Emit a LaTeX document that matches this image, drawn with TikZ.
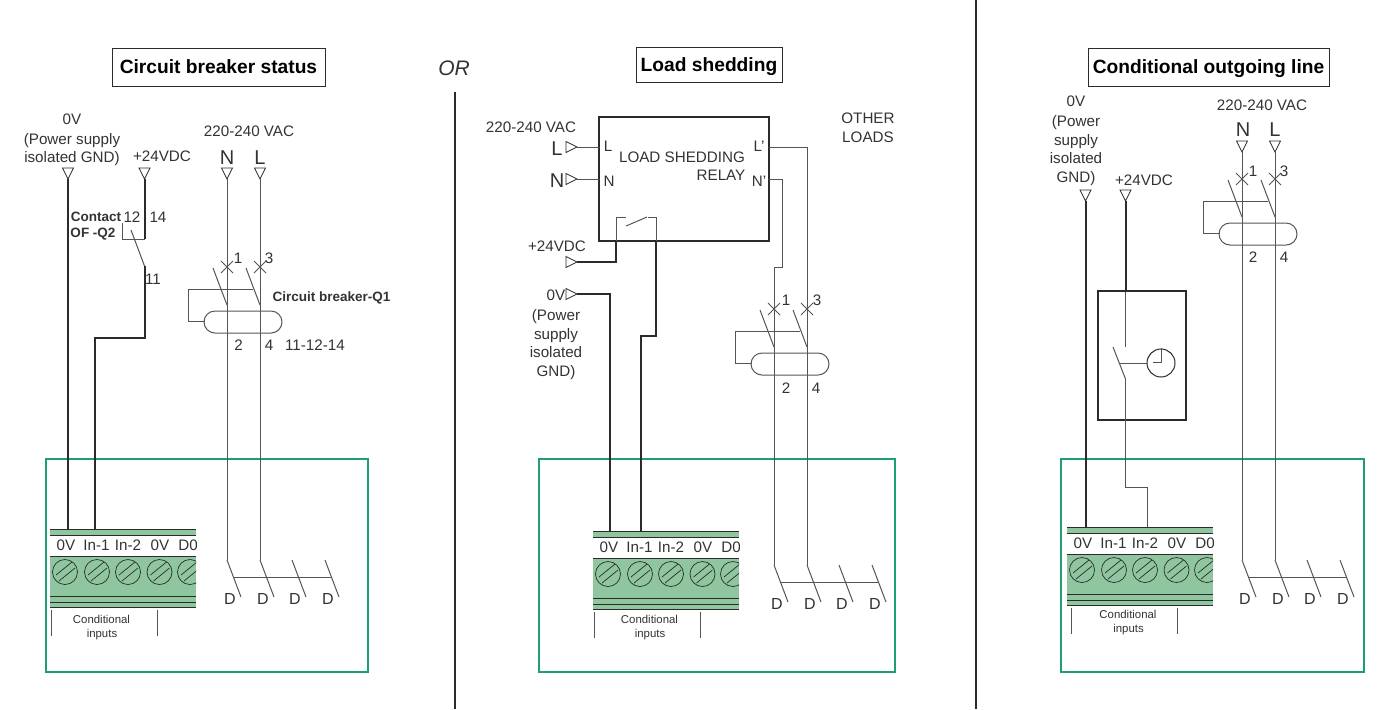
\documentclass[tikz,border=0pt]{standalone}
\usepackage{fontspec}
\setmainfont{Liberation Sans}
\definecolor{ink}{HTML}{2B2B2B}
\definecolor{txt}{HTML}{333333}
\definecolor{frame}{HTML}{1F9E6E}
\definecolor{blockg}{HTML}{8FC6A0}
\definecolor{thinw}{HTML}{555555}
\newcommand{\sz}[1]{\fontsize{#1}{#1}\selectfont}
\tikzset{
  x=0.5pt,y=-0.5pt,
  lbl/.style={inner sep=0pt,text=txt,font=\sz{7.6pt},text height=5.5pt,text depth=0pt},
  big/.style={inner sep=0pt,text=txt,font=\sz{10pt},text height=7.2pt,text depth=0pt},
  small/.style={inner sep=0pt,text=txt,font=\sz{5.7pt},text height=4.1pt,text depth=0pt},
  boldl/.style={inner sep=0pt,text=txt,font=\bfseries\sz{6.75pt},text height=4.8pt,text depth=0pt},
  title/.style={draw=ink,line width=0.5pt,inner sep=0pt,text=black,font=\bfseries\sz{9.6pt},text height=6.9pt,text depth=0pt},
  thin wire/.style={draw=thinw,line width=0.5pt},
  thick wire/.style={draw=ink,line width=1pt},
  term/.style={draw=ink,line width=0.4pt,fill=white},
  green frame/.style={draw=frame,line width=0.9pt},
  heavy/.style={draw=ink,line width=1pt},
  tdown/.pic={\path[term] (-5.5,-11) -- (5.5,-11) -- (0,0) -- cycle;},
  tright/.pic={\path[term] (-11,-5.5) -- (-11,5.5) -- (0,0) -- cycle;},
  breaker/.pic={
    \coordinate (-in1) at (0,0);
    \coordinate (-in2) at (33,0);
    \coordinate (-out1) at (0,38);
    \coordinate (-out2) at (33,38);
    \draw[thin wire] (-6,-6) -- (6,6) (-6,6) -- (6,-6);
    \draw[thin wire] (27,-6) -- (39,6) (27,6) -- (39,-6);
    \draw[thin wire] (-14,1) -- (-out1);
    \draw[thin wire] (19,1) -- (-out2);
    \draw[thin wire] (26,22) -- (-39,22) -- (-39,54) -- (-22,54);
    \draw[thin wire,rounded corners=5.5pt] (-23,44) rectangle (55,66);
    \draw[thin wire] (-in1) -- (-out1);
  },
  dcontacts/.pic={
    \coordinate (-a) at (0,0);
    \coordinate (-b) at (33,0);
    \foreach \i in {0,33,65,98}{
      \draw[thin wire] (\i,0) -- ++(14,37);
      \node[lbl,font=\sz{8pt}] at (\i+3,39) {D};
    }
    \draw[thin wire] (7,17) -- (105,17);
  },
  pics/tblock/.style n args={3}{code={
    \coordinate (-0V) at (16,0);
    \coordinate (-In1) at (46,0);
    \coordinate (-In2) at (78,0);
    \begin{scope}
      \clip (0,-1) rectangle (146,80);
      \fill[blockg] (0,0) rectangle (146,6);
      \fill[blockg] (0,27) rectangle (146,78);
      \draw[ink,line width=0.5pt] (0,0) -- (146,0) (0,6) -- (146,6) (0,27) -- (146,27)
        (0,67) -- (146,67) (0,73) -- (146,73) (0,78) -- (146,78);
      \foreach \c in {15,47,78,109.5,140}{
        \draw[ink,line width=0.35pt] (\c,43) circle[radius=12.5];
        \draw[ink,line width=0.35pt] (\c-9,43+3) -- (\c+7,43-10) (\c-6,43+9) -- (\c+10,43-4);
      }
      \node[lbl] at (16,15.5) {0V};
      \node[lbl] at (46.5,15.5) {In-1};
      \node[lbl] at (78,15.5) {In-2};
      \node[lbl] at (110,15.5) {0V};
      \node[lbl,anchor=west] at (128,15.5) {D0};
    \end{scope}
    \draw[thin wire] (1.5+#1,81) -- (1.5+#1,107) (107+#1,81) -- (107+#1,107);
    \node[small] at (51.5+#2,90+#3) {Conditional};
    \node[small] at (52+#2,104+#3) {inputs};
  }}
}
\begin{document}
\begin{tikzpicture}
\useasboundingbox (0,0) rectangle (1382,709);
\fill[white] (0,0) rectangle (1382,709);
% dividers
\coordinate (d1a) at (455,92); \coordinate (d1b) at (455,709);
\coordinate (d2a) at (976,0); \coordinate (d2b) at (976,709);
\draw[heavy] (d1a) -- (d1b);
\draw[heavy] (d2a) -- (d2b);
\node[inner sep=0pt,text=txt,font=\itshape\sz{10.5pt}] (orl) at (454,68) {OR};
% titles
\node[title,minimum width=106.5pt,minimum height=19pt] (t1) at (218.5,67) {Circuit breaker status};
\node[title,minimum width=73pt,minimum height=17.5pt] (t2) at (709,64.5) {Load shedding};
\node[title,minimum width=120.5pt,minimum height=19pt] (t3) at (1208.5,67) {Conditional outgoing line};
% frames
\node[green frame,minimum width=161pt,minimum height=106.5pt,inner sep=0pt] (f1) at (207,565.5) {};
\node[green frame,minimum width=178pt,minimum height=106.5pt,inner sep=0pt] (f2) at (717,565.5) {};
\node[green frame,minimum width=151.5pt,minimum height=106.5pt,inner sep=0pt] (f3) at (1212.5,565.5) {};

% ===== Panel 1 =====
\pic (b1) at (50,529) {tblock={0}{0}{0}};
\pic (p1) at (227,267) {breaker};
\pic (d1) at (227,560) {dcontacts};
\coordinate (a0) at (68,179);
\coordinate (a24) at (144.5,179);
\coordinate (aN) at (227,179);
\coordinate (aL) at (260,179);
\pic at (a0) {tdown}; \pic at (a24) {tdown}; \pic at (aN) {tdown}; \pic at (aL) {tdown};
\draw[thick wire] (a0) -- (68,529);
\coordinate (c14) at (144.5,239);
\coordinate (c11) at (144.5,266);
\draw[thick wire] (a24) -- (c14);
\draw[thin wire] (122,223) -- (122,239) -- (c14);
\draw[thin wire] (131,230) -- (c11);
\draw[thick wire] (c11) -- (144.5,338) -- (95,338) -- (95,529);
\draw[thin wire] (aN) -- (p1-in1);
\draw[thin wire] (aL) -- (p1-in2);
\draw[thin wire] (p1-in2) -- (p1-out2);
\draw[thin wire] (p1-out1) -- (d1-a);
\draw[thin wire] (p1-out2) -- (d1-b);
\node[lbl] (n1) at (72,119) {0V};
\node[lbl] (n2) at (72,139) {(Power supply};
\node[lbl] (n3) at (72,157) {isolated GND)};
\node[lbl] (n4) at (162,156) {+24VDC};
\node[lbl] (n5) at (249,131) {220-240 VAC};
\node[big] (n6) at (227,157) {N};
\node[big] (n7) at (260,157) {L};
\node[boldl] (n8) at (96,217) {Contact};
\node[boldl] (n9) at (93,233) {OF -Q2};
\node[lbl] (n10) at (132,217) {12};
\node[lbl] (n11) at (158,217) {14};
\node[lbl] (n12) at (153,279) {11};
\node[lbl] (n13) at (238,258) {1};
\node[lbl] (n14) at (269,258) {3};
\node[boldl] (n15) at (331.5,297) {Circuit breaker-Q1};
\node[lbl] (n16) at (238.5,345) {2};
\node[lbl] (n17) at (269,345) {4};
\node[lbl] (n18) at (315,345) {11-12-14};

% ===== Panel 2 =====
\draw[heavy,fill=white] (599,117) rectangle (769,241);
\pic (b2) at (593,531) {tblock={0}{5}{-2}};
\pic (p2) at (774,309) {breaker};
\pic (d2) at (774,565) {dcontacts};
\coordinate (bL) at (577,147);
\coordinate (bN) at (577,179);
\coordinate (b24) at (577,262);
\coordinate (b0) at (577,294);
\pic at (bL) {tright}; \pic at (bN) {tright}; \pic at (b24) {tright}; \pic at (b0) {tright};
\draw[thin wire] (bL) -- (599,147);
\draw[thin wire] (bN) -- (599,179);
\draw[thin wire] (769,147) -- (807,147) -- (p2-in2);
\draw[thin wire] (769,179) -- (782,179) -- (782,267) -- (774,267) -- (p2-in1);
\draw[thin wire] (p2-in2) -- (p2-out2);
\draw[thin wire] (p2-out1) -- (d2-a);
\draw[thin wire] (p2-out2) -- (d2-b);
\draw[thick wire] (b24) -- (616,262) -- (616,241);
\draw[thin wire] (616,241) -- (616,217) -- (626,217);
\draw[thin wire] (626,226) -- (647,217);
\draw[thin wire] (648,217) -- (656,217) -- (656,241);
\draw[thick wire] (656,241) -- (656,336) -- (641,336) -- (641,531);
\draw[thick wire] (b0) -- (610,294) -- (610,531);
\node[lbl] (m1) at (531,127) {220-240 VAC};
\node[big] (m2) at (557,148) {L};
\node[big] (m3) at (557,180) {N};
\node[lbl] (m4) at (608,146) {L};
\node[lbl] (m5) at (609,181) {N};
\node[lbl] (m6) at (682,157) {LOAD SHEDDING};
\node[lbl] (m7) at (721,175) {RELAY};
\node[lbl] (m8) at (759,146) {L'};
\node[lbl] (m9) at (759,181) {N'};
\node[lbl] (m10) at (868,118) {OTHER};
\node[lbl] (m11) at (868,137) {LOADS};
\node[lbl] (m12) at (557,246) {+24VDC};
\node[lbl] (m13) at (556,295) {0V};
\node[lbl] (m14) at (556,315) {(Power};
\node[lbl] (m15) at (556,334) {supply};
\node[lbl] (m16) at (556,352) {isolated};
\node[lbl] (m17) at (556,371) {GND)};
\node[lbl] (m18) at (786,300) {1};
\node[lbl] (m19) at (817,300) {3};
\node[lbl] (m20) at (786,388) {2};
\node[lbl] (m21) at (816,388) {4};

% ===== Panel 3 =====
\pic (b3) at (1067,527) {tblock={3}{9.5}{-3}};
\pic (p3) at (1242,179) {breaker};
\pic (d3) at (1242,560) {dcontacts};
\coordinate (c0) at (1085.5,201);
\coordinate (c24) at (1125.5,201);
\coordinate (cN) at (1242,152);
\coordinate (cL) at (1275,152);
\pic at (c0) {tdown}; \pic at (c24) {tdown}; \pic at (cN) {tdown}; \pic at (cL) {tdown};
\draw[thick wire] (c0) -- (1085.5,527);
\draw[thick wire] (c24) -- (1125.5,291);
\draw[thin wire] (1125.5,291) -- (1125.5,347);
\draw[thin wire] (cN) -- (p3-in1);
\draw[thin wire] (cL) -- (p3-in2);
\draw[thin wire] (p3-in2) -- (p3-out2);
\draw[thin wire] (p3-out1) -- (d3-a);
\draw[thin wire] (p3-out2) -- (d3-b);
\draw[heavy] (1098,291) rectangle (1186,420);
\draw[thin wire] (1113,347) -- (1125.5,379);
\draw[thin wire] (1120,363) -- (1147,363);
\node[draw=ink,line width=0.5pt,circle,minimum size=14pt,inner sep=0pt] (clk) at (1161,363) {};
\draw[thin wire] (1161,348) -- (1161,362) -- (1153,362);
\draw[thin wire] (1125.5,379) -- (1125.5,487) -- (1147,487) -- (1147,527);
\node[lbl] (k1) at (1076,101) {0V};
\node[lbl] (k2) at (1076,121) {(Power};
\node[lbl] (k3) at (1076,140) {supply};
\node[lbl] (k4) at (1076,158) {isolated};
\node[lbl] (k5) at (1076,177) {GND)};
\node[lbl] (k6) at (1144,180) {+24VDC};
\node[lbl] (k7) at (1262,105) {220-240 VAC};
\node[big] (k8) at (1243,129) {N};
\node[big] (k9) at (1275,129) {L};
\node[lbl] (k10) at (1253,171) {1};
\node[lbl] (k11) at (1284,171) {3};
\node[lbl] (k12) at (1253,257) {2};
\node[lbl] (k13) at (1284,257) {4};
\end{tikzpicture}
\end{document}
